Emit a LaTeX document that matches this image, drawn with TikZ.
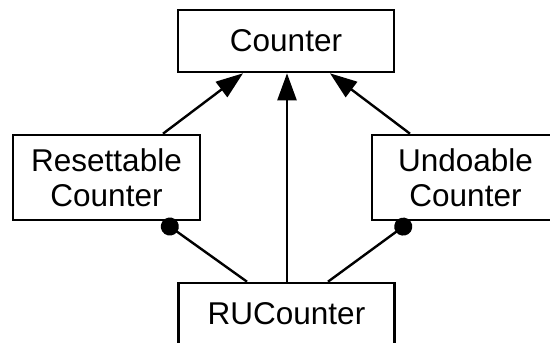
\documentclass[tikz,border=0pt]{standalone}
\usepackage{fontspec}
\setmainfont{Liberation Sans}
\usetikzlibrary{arrows.meta,calc}
\begin{document}
\begin{tikzpicture}[x=1pt,y=-1pt,
  cls/.style={draw=black, line width=2.6pt, fill=white, inner sep=0pt,
    align=center, font=\fontsize{31.5}{35}\selectfont},
  wide/.style={minimum width=216pt, minimum height=62pt},
  side/.style={minimum width=187pt, minimum height=85pt},
  link/.style={line width=2.4pt},
  isa/.style={link, -{Triangle[length=27pt,width=19pt]}},
  mixin/.style={link, -{Circle[length=18pt]}}]
\useasboundingbox (0,0) rectangle (550,343);

% classes
\node[cls, wide] (counter) at (286,41) {Counter};
\node[cls, side] (res) at (106.5,177.5) {Resettable\\Counter};
\node[cls, side] (undo) at (465.5,177.5) {Undoable\\Counter};
\node[cls, wide] (ru) at (286.5,314) {RUCounter};

% inheritance
\draw[isa] ($(res.north)+(56.5,0)$) -- ($(counter.south)+(-43,0)$);
\draw[isa] ($(undo.north)+(-55.5,0)$) -- ($(counter.south)+(44,0)$);
\draw[isa] ($(ru.north)+(0.5,0)$) -- ($(counter.south)+(1,0)$);

% mixins
\draw[mixin] ($(ru.north)+(-39.5,0)$) -- ($(res.south)+(56,0)$);
\draw[mixin] ($(ru.north)+(41.5,0)$) -- ($(undo.south)+(-55,0)$);
\end{tikzpicture}
\end{document}
